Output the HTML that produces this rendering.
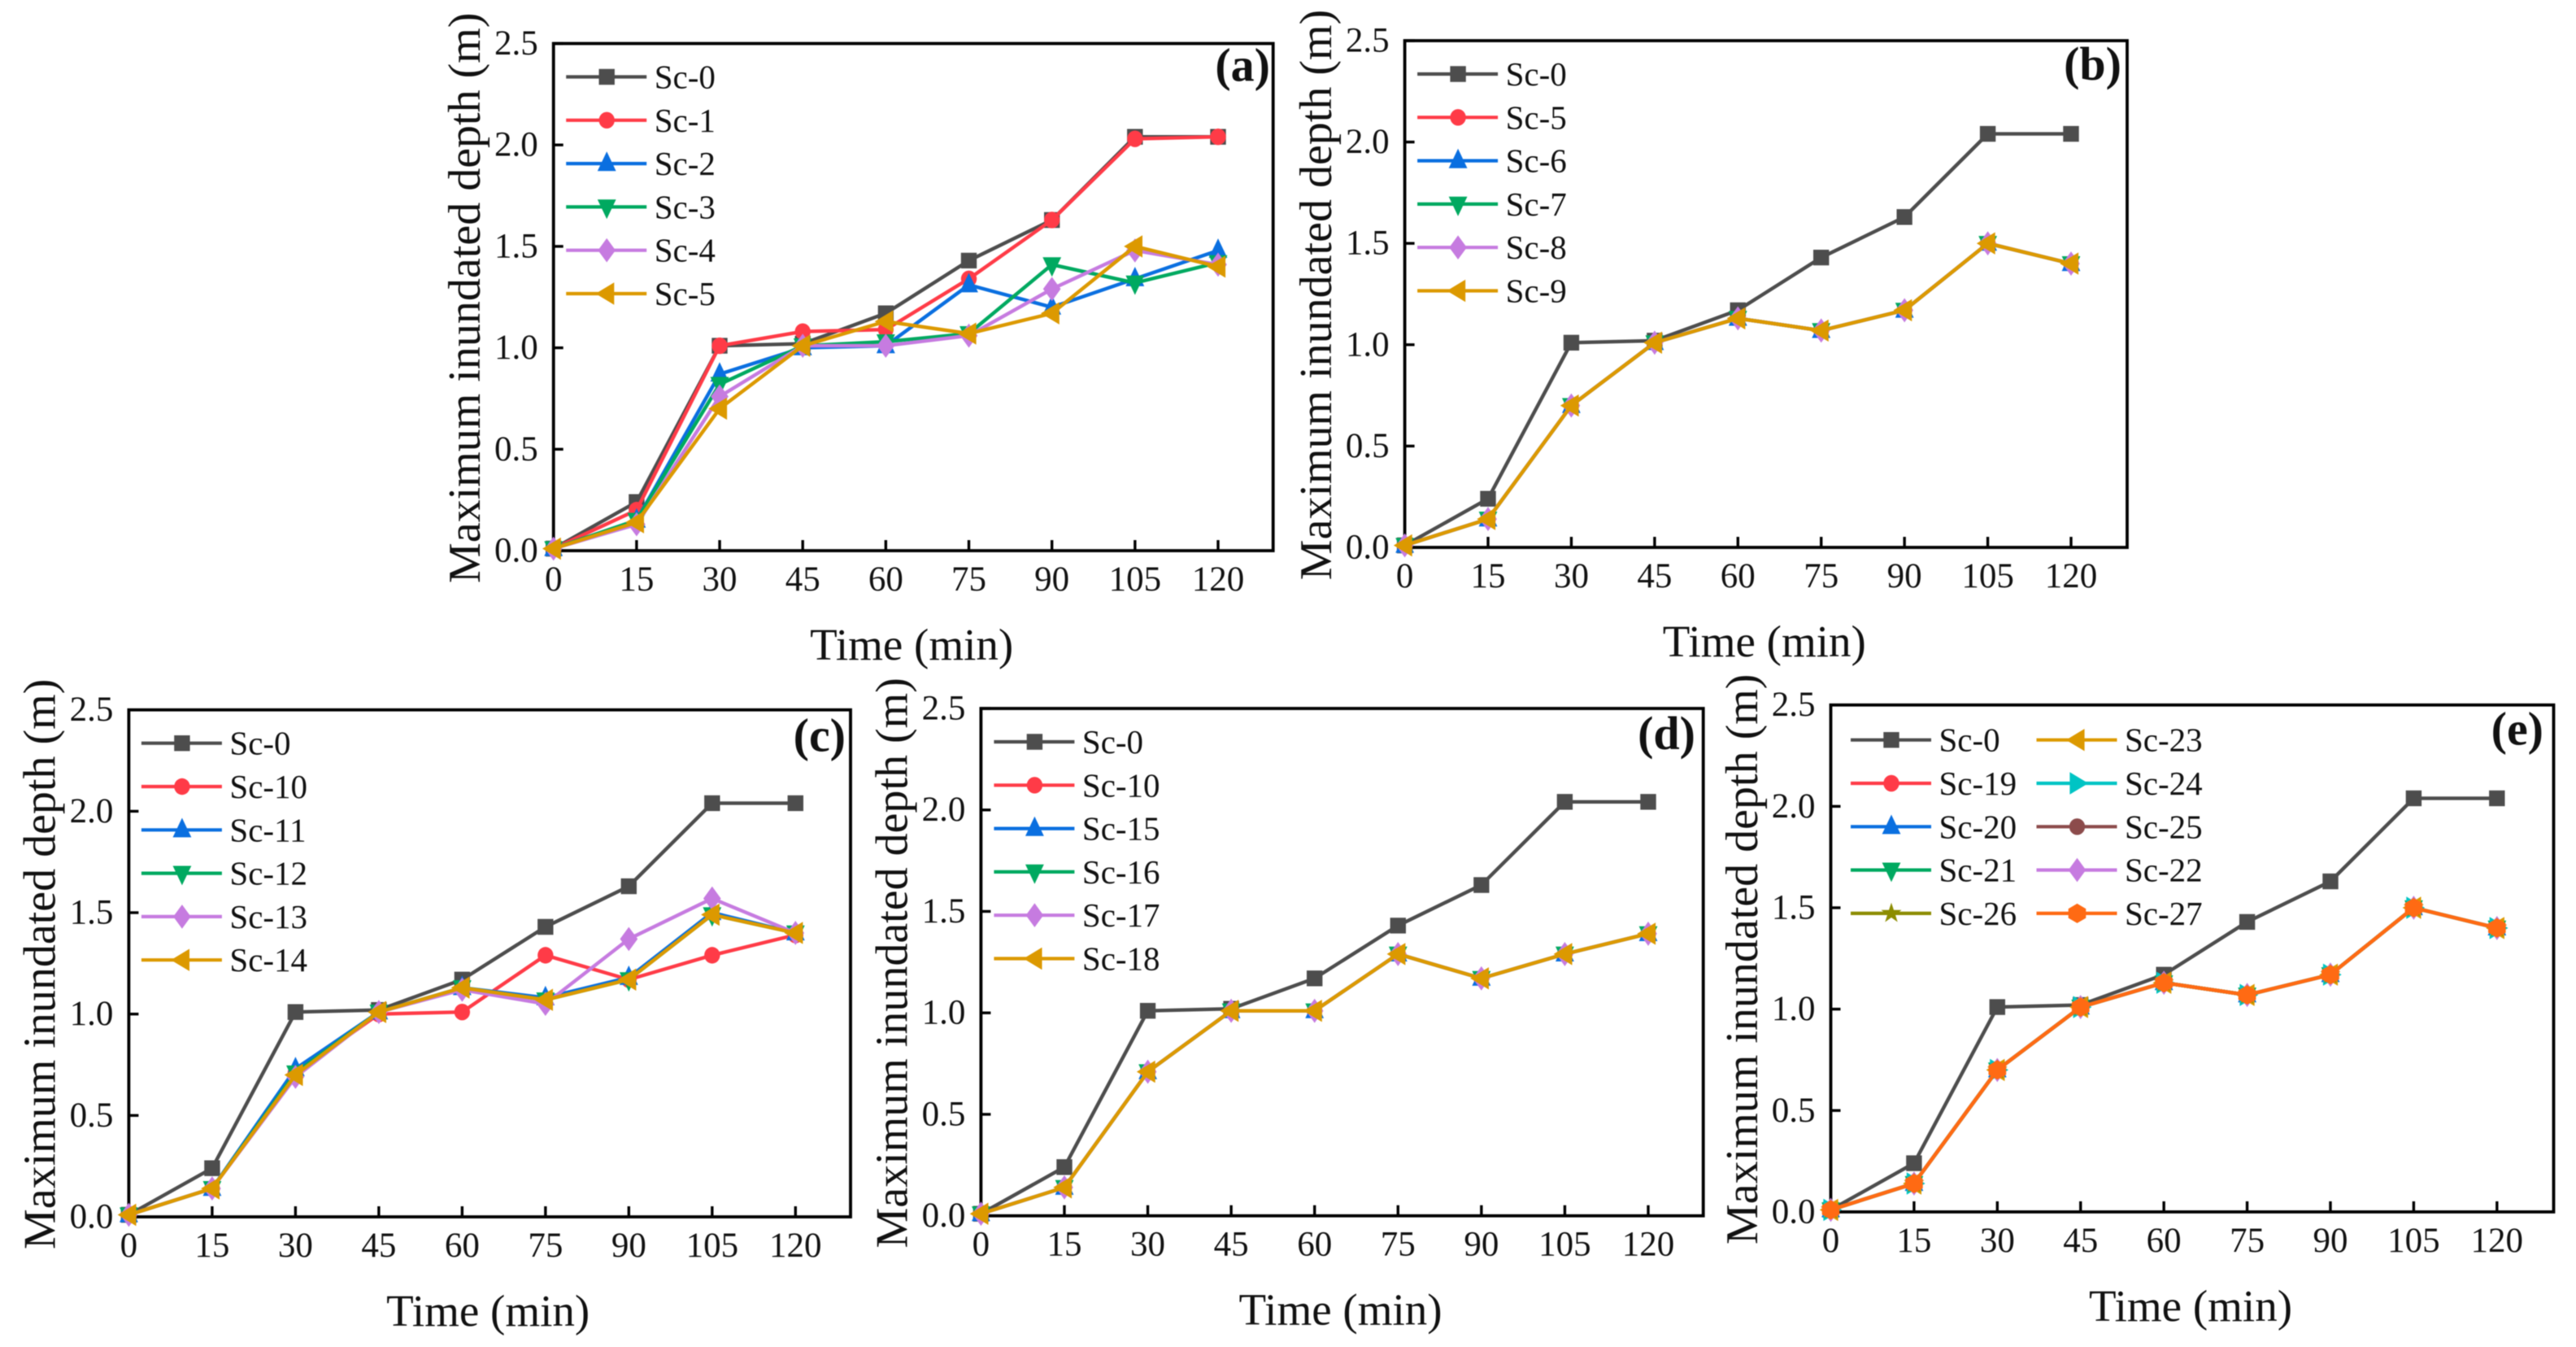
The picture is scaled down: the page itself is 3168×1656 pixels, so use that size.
<!DOCTYPE html>
<html lang="en">
<head>
<meta charset="utf-8">
<title>Maximum inundated depth over time</title>
<style>
html,body{margin:0;padding:0;background:#fff;width:3168px;height:1656px;overflow:hidden}
svg{display:block;filter:blur(0.6px)}
text{font-family:"Liberation Serif",serif;fill:#111}
</style>
</head>
<body>
<svg id="figure" xmlns="http://www.w3.org/2000/svg" width="3168" height="1656" viewBox="0 0 3168 1656"></svg>
<script>
const minutes = [0, 15, 30, 45, 60, 75, 90, 105, 120];
const depthTicks = [0, 0.5, 1, 1.5, 2, 2.5];
const xMax = 120;
const yMax = 2.5;

const sc0 = [0.01, 0.24, 1.01, 1.02, 1.17, 1.43, 1.63, 2.04, 2.04];

const a1 = [0.01, 0.20, 1.01, 1.08, 1.09, 1.34, 1.63, 2.03, 2.04];
const a2 = [0.01, 0.15, 0.87, 1.00, 1.01, 1.31, 1.20, 1.34, 1.48];
const a3 = [0.01, 0.15, 0.82, 1.01, 1.03, 1.07, 1.41, 1.32, 1.42];
const a4 = [0.01, 0.13, 0.76, 1.01, 1.01, 1.06, 1.29, 1.48, 1.41];
const a5 = [0.01, 0.14, 0.70, 1.01, 1.13, 1.07, 1.17, 1.50, 1.40];

const b5 = [0.01, 0.14, 0.70, 1.01, 1.13, 1.07, 1.17, 1.50, 1.40];
const b6 = [0.01, 0.14, 0.70, 1.01, 1.13, 1.07, 1.17, 1.50, 1.40];
const b7 = [0.01, 0.14, 0.70, 1.01, 1.13, 1.07, 1.17, 1.50, 1.40];
const b8 = [0.01, 0.14, 0.70, 1.01, 1.13, 1.07, 1.17, 1.50, 1.40];
const b9 = [0.01, 0.14, 0.70, 1.01, 1.13, 1.07, 1.17, 1.50, 1.40];

const c10 = [0.01, 0.14, 0.71, 1.00, 1.01, 1.29, 1.17, 1.29, 1.39];
const c11 = [0.01, 0.14, 0.73, 1.01, 1.13, 1.08, 1.18, 1.50, 1.40];
const c12 = [0.01, 0.14, 0.71, 1.01, 1.13, 1.07, 1.17, 1.49, 1.40];
const c13 = [0.01, 0.14, 0.69, 1.01, 1.12, 1.05, 1.37, 1.57, 1.40];
const c14 = [0.01, 0.14, 0.70, 1.01, 1.13, 1.07, 1.17, 1.49, 1.40];

const d10 = [0.01, 0.14, 0.71, 1.01, 1.01, 1.29, 1.17, 1.29, 1.39];
const d15 = [0.01, 0.14, 0.71, 1.01, 1.01, 1.29, 1.17, 1.29, 1.39];
const d16 = [0.01, 0.14, 0.71, 1.01, 1.01, 1.29, 1.17, 1.29, 1.39];
const d17 = [0.01, 0.14, 0.71, 1.01, 1.01, 1.29, 1.17, 1.29, 1.39];
const d18 = [0.01, 0.14, 0.71, 1.01, 1.01, 1.29, 1.17, 1.29, 1.39];

const e19 = [0.01, 0.14, 0.70, 1.01, 1.13, 1.07, 1.17, 1.50, 1.40];
const e20 = [0.01, 0.14, 0.70, 1.01, 1.13, 1.07, 1.17, 1.50, 1.40];
const e21 = [0.01, 0.14, 0.70, 1.01, 1.13, 1.07, 1.17, 1.50, 1.40];
const e22 = [0.01, 0.14, 0.70, 1.01, 1.13, 1.07, 1.17, 1.50, 1.40];
const e23 = [0.01, 0.14, 0.70, 1.01, 1.13, 1.07, 1.17, 1.50, 1.40];
const e24 = [0.01, 0.14, 0.70, 1.01, 1.13, 1.07, 1.17, 1.50, 1.40];
const e25 = [0.01, 0.14, 0.70, 1.01, 1.13, 1.07, 1.17, 1.50, 1.40];
const e26 = [0.01, 0.14, 0.70, 1.01, 1.13, 1.07, 1.17, 1.50, 1.40];
const e27 = [0.01, 0.14, 0.70, 1.01, 1.13, 1.07, 1.17, 1.50, 1.40];

const GREY = '#4d4d4d', RED = '#ff3b47', BLUE = '#0a6fe0', GREEN = '#00a960',
      PURPLE = '#c67be0', GOLD = '#dc9900', CYAN = '#00c4c4', BROWN = '#8c4b4b',
      OLIVE = '#8c8c00', ORANGE = '#ff6a13';

const panels = [
  { tag: '(a)', L: 680.7, R: 1565.7, T: 53.5, B: 677, X120: 1498, labelRight: 1562, labelDy: 46, legendX: 15.5, legendStep: 237, legendY: 41,
    series: [['Sc-0', sc0, GREY, 'square'], ['Sc-1', a1, RED, 'circle'], ['Sc-2', a2, BLUE, 'up'],
             ['Sc-3', a3, GREEN, 'down'], ['Sc-4', a4, PURPLE, 'diamond'], ['Sc-5', a5, GOLD, 'left']],
    legend: [['Sc-0', 'Sc-1', 'Sc-2', 'Sc-3', 'Sc-4', 'Sc-5']] },
  { tag: '(b)', L: 1727.6, R: 2616, T: 50, B: 673, X120: 2547, labelRight: 2609, labelDy: 48, legendX: 15.5, legendStep: 237, legendY: 41,
    series: [['Sc-0', sc0, GREY, 'square'], ['Sc-5', b5, RED, 'circle'], ['Sc-6', b6, BLUE, 'up'],
             ['Sc-7', b7, GREEN, 'down'], ['Sc-8', b8, PURPLE, 'diamond'], ['Sc-9', b9, GOLD, 'left']],
    legend: [['Sc-0', 'Sc-5', 'Sc-6', 'Sc-7', 'Sc-8', 'Sc-9']] },
  { tag: '(c)', L: 158.4, R: 1046, T: 872.7, B: 1496, X120: 978.3, labelRight: 1040, labelDy: 51, legendX: 15.5, legendStep: 237, legendY: 41,
    series: [['Sc-0', sc0, GREY, 'square'], ['Sc-10', c10, RED, 'circle'], ['Sc-11', c11, BLUE, 'up'],
             ['Sc-12', c12, GREEN, 'down'], ['Sc-13', c13, PURPLE, 'diamond'], ['Sc-14', c14, GOLD, 'left']],
    legend: [['Sc-0', 'Sc-10', 'Sc-11', 'Sc-12', 'Sc-13', 'Sc-14']] },
  { tag: '(d)', L: 1206.4, R: 2094.7, T: 871, B: 1494.7, X120: 2027, labelRight: 2085, labelDy: 50, legendX: 16, legendStep: 237, legendY: 41,
    series: [['Sc-0', sc0, GREY, 'square'], ['Sc-10', d10, RED, 'circle'], ['Sc-15', d15, BLUE, 'up'],
             ['Sc-16', d16, GREEN, 'down'], ['Sc-17', d17, PURPLE, 'diamond'], ['Sc-18', d18, GOLD, 'left']],
    legend: [['Sc-0', 'Sc-10', 'Sc-15', 'Sc-16', 'Sc-17', 'Sc-18']] },
  { tag: '(e)', L: 2251.5, R: 3140.5, T: 866.7, B: 1489.9, X120: 3070.8, labelRight: 3128, labelDy: 49, legendX: 24.5, legendStep: 228.5, legendY: 43,
    series: [['Sc-0', sc0, GREY, 'square'], ['Sc-19', e19, RED, 'circle'], ['Sc-20', e20, BLUE, 'up'],
             ['Sc-21', e21, GREEN, 'down'], ['Sc-22', e22, PURPLE, 'diamond'], ['Sc-23', e23, GOLD, 'left'],
             ['Sc-24', e24, CYAN, 'right'], ['Sc-25', e25, BROWN, 'circle'], ['Sc-26', e26, OLIVE, 'star'],
             ['Sc-27', e27, ORANGE, 'hex']],
    legend: [['Sc-0', 'Sc-19', 'Sc-20', 'Sc-21', 'Sc-26'], ['Sc-23', 'Sc-24', 'Sc-25', 'Sc-22', 'Sc-27']] }
];

const NS = 'http://www.w3.org/2000/svg';
const root = document.getElementById('figure');

function make(tag, attrs, parent) {
  const el = document.createElementNS(NS, tag);
  for (const k in attrs) el.setAttribute(k, attrs[k]);
  parent.appendChild(el);
  return el;
}

function markerPath(kind, x, y) {
  const k = 1.14;
  const r = 8.5 * k;
  const poly = pts => 'M' + pts.map(p => (x + p[0] * k).toFixed(1) + ' ' + (y + p[1] * k).toFixed(1)).join('L') + 'Z';
  if (kind === 'square') return poly([[-8.5, -8.5], [8.5, -8.5], [8.5, 8.5], [-8.5, 8.5]]);
  if (kind === 'up') return poly([[0, -13], [10, 8], [-10, 8]]);
  if (kind === 'down') return poly([[0, 13], [10, -8], [-10, -8]]);
  if (kind === 'left') return poly([[-12, 0], [8, -12], [8, 12]]);
  if (kind === 'right') return poly([[12, 0], [-8, -12], [-8, 12]]);
  if (kind === 'diamond') return poly([[0, -13], [9.5, 0], [0, 13], [-9.5, 0]]);
  if (kind === 'hex') return poly([[0, -10.5], [9.5, -5], [9.5, 5], [0, 10.5], [-9.5, 5], [-9.5, -5]]);
  if (kind === 'star') {
    const pts = [];
    for (let i = 0; i < 10; i++) {
      const rad = i % 2 ? 4.5 : 11.5;
      const ang = -Math.PI / 2 + i * Math.PI / 5;
      pts.push([rad * Math.cos(ang), rad * Math.sin(ang)]);
    }
    return poly(pts);
  }
  return 'M' + (x - r) + ' ' + y + 'a' + r + ' ' + (r + 0.5) + ' 0 1 0 ' + (2 * r) + ' 0a' + r + ' ' + (r + 0.5) + ' 0 1 0 ' + (-2 * r) + ' 0Z';
}

function label(parent, str, x, y, size, anchor, extra) {
  const t = make('text', Object.assign({ x: x, y: y, 'font-size': size, 'text-anchor': anchor }, extra || {}), parent);
  t.textContent = str;
  return t;
}

panels.forEach(function (p, pi) {
  const sx = v => p.L + (v / xMax) * (p.X120 - p.L);
  const sy = v => p.B - (v / yMax) * (p.B - p.T);
  const letter = p.tag.charAt(1);

  const g = make('g', {}, root);
  
  

  const frame = make('rect', { x: p.L, y: p.T, width: p.R - p.L, height: p.B - p.T, fill: 'none', stroke: '#000', 'stroke-width': 3.8 }, g);
  
  

  const xAxis = make('g', {}, g);
  
  
  minutes.forEach(function (m) {
    const tick = make('line', { x1: sx(m), x2: sx(m), y1: p.B, y2: p.B - 13, stroke: '#000', 'stroke-width': 3.4 }, xAxis);
    
    
    const tl = label(xAxis, String(m), sx(m), p.B + 49, 43, 'middle');
    
    
  });

  const yAxis = make('g', {}, g);
  
  
  depthTicks.forEach(function (d) {
    const tick = make('line', { x1: p.L, x2: p.L + 12, y1: sy(d), y2: sy(d), stroke: '#000', 'stroke-width': 3.4 }, yAxis);
    
    
    const tl = label(yAxis, d.toFixed(1), p.L - 19, sy(d) + 13.5, 43, 'end');
    
    
  });

  const xTitle = label(g, 'Time (min)', (p.L + p.R) / 2 - 2, p.B + 134, 55, 'middle');
  
  

  const cy = (p.T + p.B) / 2 + 1;
  const yTitle = label(g, 'Maximum inundated depth (m)', 0, 0, 56, 'middle',
    { transform: 'translate(' + (p.L - 90.7) + ' ' + cy + ') rotate(-90)' });
  
  

  p.series.forEach(function (s) {
    const sg = make('g', {}, g);
    
    
    const d = s[1].map((v, i) => (i ? 'L' : 'M') + sx(minutes[i]).toFixed(1) + ' ' + sy(v).toFixed(1)).join('');
    const line = make('path', { d: d, fill: 'none', stroke: s[2], 'stroke-width': 4.4, 'stroke-linejoin': 'round' }, sg);
    
    
    s[1].forEach(function (v, i) {
      const pt = make('path', { d: markerPath(s[3], sx(minutes[i]), sy(v)), fill: s[2] }, sg);
      
      
    });
  });

  const lg = make('g', {}, g);
  
  
  p.legend.forEach(function (col, ci) {
    col.forEach(function (name, ri) {
      const s = p.series.find(q => q[0] === name);
      const x0 = p.L + p.legendX + ci * p.legendStep;
      const ly = p.T + p.legendY + ri * 53.3;
      const entry = make('g', {}, lg);
      
      
      make('line', { x1: x0, x2: x0 + 99, y1: ly, y2: ly, stroke: s[2], 'stroke-width': 4.2 }, entry);
      make('path', { d: markerPath(s[3], x0 + 50, ly), fill: s[2] }, entry);
      label(entry, name, x0 + 108.5, ly + 14, 41, 'start');
    });
  });

  const tag = label(g, p.tag, p.labelRight, p.T + p.labelDy, 58, 'end', { 'font-weight': 'bold' });
  
  
});
</script>
</body>
</html>
